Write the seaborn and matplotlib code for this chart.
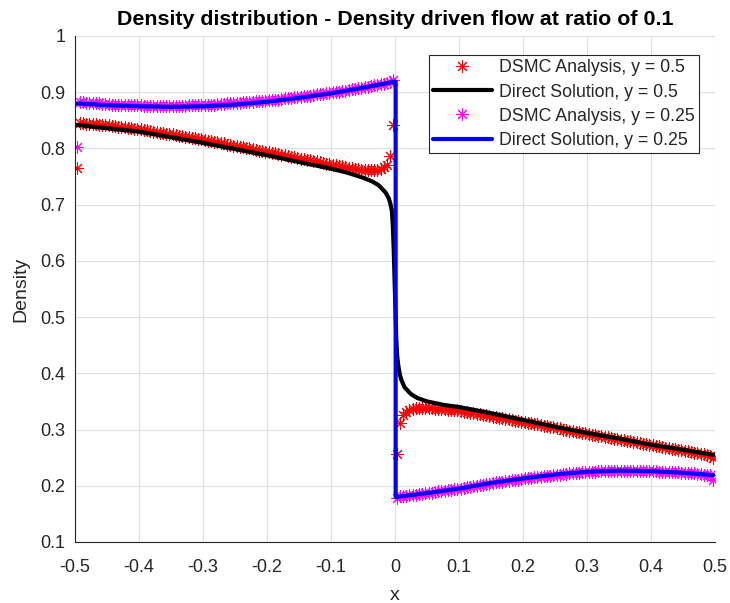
import numpy as np
import pandas as pd
import matplotlib
matplotlib.use("Agg")
import matplotlib.pyplot as plt
import seaborn as sns

# DSMC cell centres: 200 cells across the channel
x_cells = np.linspace(-0.4975, 0.4975, 200)

# DSMC density, y = 0.5 (left half then right half of the channel)
dsmc_05_left = [
    0.765,
    0.845, 0.845, 0.844, 0.844, 0.843, 0.843, 0.842, 0.842, 0.841, 0.841,
    0.840, 0.840, 0.839, 0.838, 0.838, 0.837, 0.836, 0.835, 0.835, 0.834,
    0.833, 0.832, 0.831, 0.830, 0.829, 0.828, 0.827, 0.826, 0.825, 0.825,
    0.824, 0.823, 0.822, 0.821, 0.820, 0.819, 0.818, 0.817, 0.816, 0.815,
    0.814, 0.813, 0.812, 0.811, 0.810, 0.809, 0.807, 0.806, 0.805, 0.804,
    0.803, 0.802, 0.801, 0.800, 0.799, 0.798, 0.796, 0.795, 0.794, 0.793,
    0.792, 0.791, 0.790, 0.789, 0.788, 0.787, 0.785, 0.784, 0.783, 0.782,
    0.781, 0.780, 0.779, 0.778, 0.777, 0.776, 0.774, 0.773, 0.772, 0.771,
    0.770, 0.769, 0.768, 0.767, 0.766, 0.765, 0.764, 0.763, 0.762, 0.762,
    0.761, 0.761, 0.761, 0.762, 0.764, 0.767, 0.771, 0.787, 0.842,
]
dsmc_05_right = [
    0.257,
    0.312, 0.326, 0.332, 0.335, 0.337, 0.338, 0.338, 0.338, 0.338, 0.338,
    0.338, 0.337, 0.337, 0.336, 0.336, 0.335, 0.335, 0.334, 0.334, 0.333,
    0.332, 0.331, 0.330, 0.329, 0.328, 0.327, 0.326, 0.325, 0.324, 0.323,
    0.322, 0.321, 0.320, 0.319, 0.318, 0.317, 0.316, 0.315, 0.314, 0.313,
    0.312, 0.311, 0.310, 0.309, 0.308, 0.307, 0.306, 0.305, 0.304, 0.303,
    0.302, 0.300, 0.299, 0.298, 0.297, 0.296, 0.295, 0.294, 0.293, 0.292,
    0.291, 0.290, 0.289, 0.288, 0.287, 0.286, 0.285, 0.284, 0.283, 0.282,
    0.281, 0.280, 0.279, 0.278, 0.277, 0.276, 0.275, 0.274, 0.273, 0.272,
    0.271, 0.270, 0.269, 0.268, 0.267, 0.266, 0.265, 0.264, 0.263, 0.262,
    0.261, 0.260, 0.259, 0.258, 0.257, 0.256, 0.255, 0.253, 0.249,
]

# DSMC density, y = 0.25
dsmc_025_left = [
    0.803,
    0.882, 0.882, 0.881, 0.881, 0.880, 0.880, 0.880, 0.879, 0.879, 0.879,
    0.878, 0.878, 0.878, 0.878, 0.877, 0.877, 0.877, 0.877, 0.877, 0.877,
    0.876, 0.876, 0.876, 0.876, 0.876, 0.876, 0.876, 0.876, 0.876, 0.876,
    0.876, 0.876, 0.876, 0.876, 0.877, 0.877, 0.877, 0.877, 0.877, 0.877,
    0.878, 0.878, 0.878, 0.879, 0.879, 0.879, 0.880, 0.880, 0.880, 0.881,
    0.881, 0.882, 0.882, 0.883, 0.883, 0.884, 0.884, 0.885, 0.885, 0.886,
    0.886, 0.887, 0.887, 0.888, 0.889, 0.889, 0.890, 0.891, 0.891, 0.892,
    0.893, 0.893, 0.894, 0.895, 0.896, 0.896, 0.897, 0.898, 0.899, 0.900,
    0.900, 0.901, 0.902, 0.903, 0.904, 0.905, 0.906, 0.907, 0.908, 0.909,
    0.910, 0.911, 0.912, 0.913, 0.914, 0.915, 0.917, 0.918, 0.921,
]
dsmc_025_right = [
    0.179,
    0.181, 0.182, 0.182, 0.183, 0.184, 0.184, 0.185, 0.186, 0.187, 0.187,
    0.188, 0.189, 0.190, 0.190, 0.191, 0.192, 0.193, 0.194, 0.194, 0.195,
    0.196, 0.197, 0.198, 0.199, 0.200, 0.201, 0.202, 0.203, 0.204, 0.205,
    0.206, 0.207, 0.207, 0.208, 0.209, 0.210, 0.211, 0.211, 0.212, 0.213,
    0.214, 0.214, 0.215, 0.216, 0.216, 0.217, 0.218, 0.218, 0.219, 0.220,
    0.220, 0.221, 0.221, 0.222, 0.222, 0.223, 0.223, 0.224, 0.224, 0.225,
    0.225, 0.225, 0.226, 0.226, 0.226, 0.226, 0.227, 0.227, 0.227, 0.227,
    0.227, 0.227, 0.227, 0.227, 0.227, 0.227, 0.226, 0.226, 0.226, 0.226,
    0.226, 0.225, 0.225, 0.225, 0.225, 0.224, 0.224, 0.224, 0.223, 0.223,
    0.222, 0.222, 0.222, 0.221, 0.221, 0.220, 0.220, 0.219, 0.210,
]

# direct solution, y = 0.5
direct_05_x = [-0.4975, -0.45, -0.4, -0.35, -0.3, -0.25, -0.2, -0.15, -0.1,
               -0.075, -0.05, -0.035, -0.025, -0.015, -0.01, -0.0075, -0.005,
               -0.0035, -0.002, -0.001, 0.0, 0.001, 0.002, 0.0035, 0.005,
               0.0075, 0.01, 0.015, 0.025, 0.035, 0.05, 0.075,
               0.1, 0.15, 0.2, 0.25, 0.3, 0.35, 0.4, 0.45, 0.4975]
direct_05_y = [0.842, 0.836, 0.830, 0.820, 0.810, 0.799, 0.788, 0.776, 0.764,
               0.757, 0.748, 0.741, 0.734, 0.722, 0.712, 0.703, 0.690,
               0.665, 0.620, 0.580, 0.540, 0.500, 0.460, 0.430, 0.415,
               0.398, 0.388, 0.375, 0.363, 0.356, 0.350, 0.344,
               0.340, 0.329, 0.317, 0.305, 0.294, 0.284, 0.273, 0.264, 0.255]

# direct solution, y = 0.25 (jump at the interface)
direct_025_x = [-0.4975, -0.45, -0.4, -0.35, -0.3, -0.25, -0.2, -0.15, -0.1,
                -0.05, 0.001, 0.001, 0.05, 0.1, 0.15, 0.2, 0.25, 0.3, 0.35,
                0.4, 0.45, 0.4975]
direct_025_y = [0.880, 0.877, 0.875, 0.874, 0.875, 0.878, 0.883, 0.890, 0.898,
                0.908, 0.919, 0.180, 0.187, 0.195, 0.205, 0.213, 0.220, 0.225,
                0.227, 0.226, 0.223, 0.219]

x_ticks = [-0.5, -0.4, -0.3, -0.2, -0.1, 0, 0.1, 0.2, 0.3, 0.4, 0.5]
x_ticklabels = ["-0.5", "-0.4", "-0.3", "-0.2", "-0.1", "0", "0.1", "0.2", "0.3", "0.4", "0.5"]
y_ticks = [0.1, 0.2, 0.3, 0.4, 0.5, 0.6, 0.7, 0.8, 0.9, 1.0]
y_ticklabels = ["0.1", "0.2", "0.3", "0.4", "0.5", "0.6", "0.7", "0.8", "0.9", "1"]

dsmc_05 = pd.DataFrame({"x": x_cells, "rho": dsmc_05_left + dsmc_05_right})
dsmc_025 = pd.DataFrame({"x": x_cells, "rho": dsmc_025_left + dsmc_025_right})
direct_05 = pd.DataFrame({"x": direct_05_x, "rho": direct_05_y})
direct_025 = pd.DataFrame({"x": direct_025_x, "rho": direct_025_y})

sns.set_style("white")
plt.rcParams["font.family"] = ["Liberation Sans", "DejaVu Sans"]
text_col = "#262626"

fig = plt.figure(figsize=(7.3, 6.03), dpi=100)
ax = fig.add_axes([0.1027, 0.1012, 0.8768, 0.8391])

# MATLAB-like '*' marker (8 arms)
star = (8, 2, 0)
sns.lineplot(data=dsmc_05, x="x", y="rho", ax=ax, estimator=None, sort=False,
             linestyle="", marker=star, markersize=9, markeredgewidth=0.75,
             color="#ff0000", markeredgecolor="#ff0000",
             label="DSMC Analysis, y = 0.5")
sns.lineplot(data=direct_05, x="x", y="rho", ax=ax, estimator=None, sort=False,
             color="black", linewidth=3, label="Direct Solution, y = 0.5")
sns.lineplot(data=dsmc_025, x="x", y="rho", ax=ax, estimator=None, sort=False,
             linestyle="", marker=star, markersize=9, markeredgewidth=0.75,
             color="#ff00ff", markeredgecolor="#ff00ff",
             label="DSMC Analysis, y = 0.25")
sns.lineplot(data=direct_025, x="x", y="rho", ax=ax, estimator=None, sort=False,
             color="#0000ff", linewidth=3, label="Direct Solution, y = 0.25")

ax.set_xlim(-0.5, 0.5)
ax.set_ylim(0.1, 1.0)
ax.set_xticks(x_ticks)
ax.set_xticklabels(x_ticklabels)
ax.set_yticks(y_ticks)
ax.set_yticklabels(y_ticklabels)
ax.grid(True, color="#dfdfdf", linewidth=0.8)
ax.set_axisbelow(True)
for side in ["top", "right"]:
    ax.spines[side].set_visible(False)
for side in ["left", "bottom"]:
    ax.spines[side].set_color(text_col)
    ax.spines[side].set_linewidth(0.8)
ax.tick_params(direction="in", length=4.5, width=0.8, colors=text_col,
               labelsize=13, top=False, right=False)
ax.tick_params(axis="x", pad=12)
ax.tick_params(axis="y", pad=7)

ax.set_title("Density distribution - Density driven flow at ratio of 0.1",
             fontsize=15.4, fontweight="bold", color="black", pad=8)
ax.set_xlabel("x", fontsize=14, color=text_col, labelpad=8)
ax.set_ylabel("Density", fontsize=14, color=text_col, labelpad=8)

leg = ax.legend(loc="upper right", bbox_to_anchor=(0.975, 0.9625), borderaxespad=0,
                fontsize=12.8, frameon=True, fancybox=False, framealpha=1,
                edgecolor=text_col, handlelength=3.3, handletextpad=0.4,
                labelspacing=0.4, borderpad=0.25)
leg.get_frame().set_linewidth(0.8)

fig.savefig("out.png", dpi=100)
